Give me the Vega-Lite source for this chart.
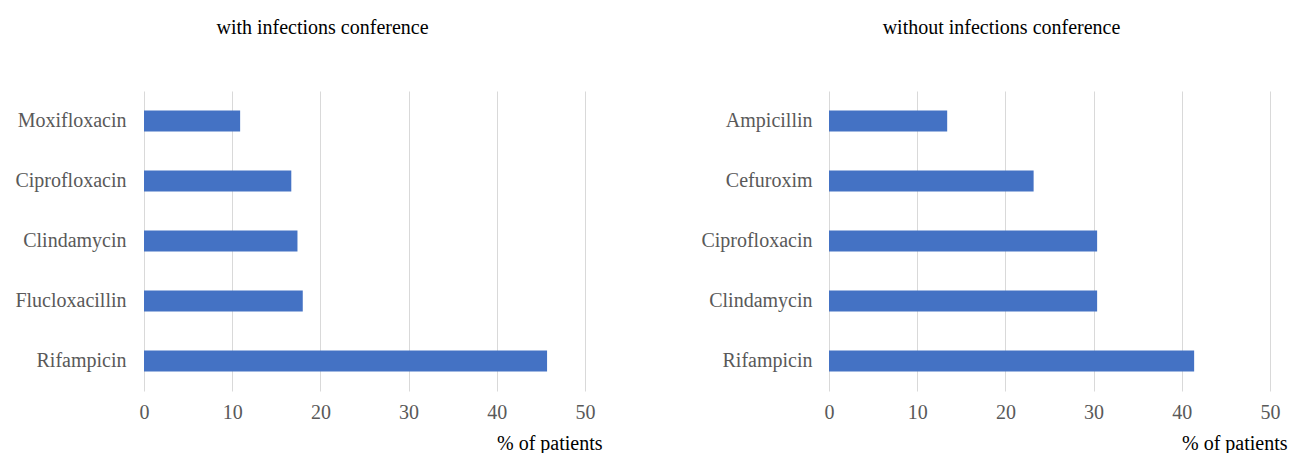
{
  "$schema": "https://vega.github.io/schema/vega-lite/v6.json",
  "background": "white",
  "padding": {"left": 14, "top": 18, "right": 5, "bottom": 0},
  "config": {"view": {"stroke": null}, "font": "Liberation Serif", "concat": {"spacing": 98}},
  "datasets": {
    "with": [
      {"drug": "Moxifloxacin", "pct": 10.9},
      {"drug": "Ciprofloxacin", "pct": 16.7},
      {"drug": "Clindamycin", "pct": 17.4},
      {"drug": "Flucloxacillin", "pct": 18.0},
      {"drug": "Rifampicin", "pct": 45.7}
    ],
    "without": [
      {"drug": "Ampicillin", "pct": 13.4},
      {"drug": "Cefuroxim", "pct": 23.2},
      {"drug": "Ciprofloxacin", "pct": 30.4},
      {"drug": "Clindamycin", "pct": 30.4},
      {"drug": "Rifampicin", "pct": 41.4}
    ]
  },
  "hconcat": [
    {
      "width": 441, "height": 300,
      "title": {"text": "with infections conference", "fontSize": 20, "fontWeight": "normal", "color": "#000000", "anchor": "middle", "frame": "group", "dx": -42, "baseline": "alphabetic", "offset": 37},
      "data": {"name": "with"},
      "mark": {"type": "bar", "color": "#4472C4"},
      "encoding": {
        "y": {"field": "drug", "type": "nominal", "sort": null,
          "scale": {"paddingInner": 0.65, "paddingOuter": 0.325},
          "axis": {"title": null, "domain": false, "ticks": false, "grid": false, "labelPadding": 18, "labelFontSize": 20, "labelColor": "#595959"}},
        "x": {"field": "pct", "type": "quantitative", "scale": {"domain": [0, 50]},
          "axis": {"values": [0, 10, 20, 30, 40, 50], "labelFlush": false, "domain": false, "ticks": false, "grid": true, "gridColor": "#d9d9d9", "labelPadding": 11, "labelFontSize": 20, "labelColor": "#595959",
            "title": "% of patients", "titleFontSize": 20, "titleFontWeight": "normal", "titleColor": "#000000", "titleAlign": "right", "titleAnchor": "end", "titleBaseline": "alphabetic", "titleX": 458, "titleY": 58}}
      }
    },
    {
      "width": 441, "height": 300,
      "title": {"text": "without infections conference", "fontSize": 20, "fontWeight": "normal", "color": "#000000", "anchor": "middle", "frame": "group", "dx": -48, "baseline": "alphabetic", "offset": 37},
      "data": {"name": "without"},
      "mark": {"type": "bar", "color": "#4472C4"},
      "encoding": {
        "y": {"field": "drug", "type": "nominal", "sort": null,
          "scale": {"paddingInner": 0.65, "paddingOuter": 0.325},
          "axis": {"title": null, "domain": false, "ticks": false, "grid": false, "labelPadding": 17, "labelFontSize": 20, "labelColor": "#595959"}},
        "x": {"field": "pct", "type": "quantitative", "scale": {"domain": [0, 50]},
          "axis": {"values": [0, 10, 20, 30, 40, 50], "labelFlush": false, "domain": false, "ticks": false, "grid": true, "gridColor": "#d9d9d9", "labelPadding": 11, "labelFontSize": 20, "labelColor": "#595959",
            "title": "% of patients", "titleFontSize": 20, "titleFontWeight": "normal", "titleColor": "#000000", "titleAlign": "right", "titleAnchor": "end", "titleBaseline": "alphabetic", "titleX": 458, "titleY": 58}}
      }
    }
  ]
}
